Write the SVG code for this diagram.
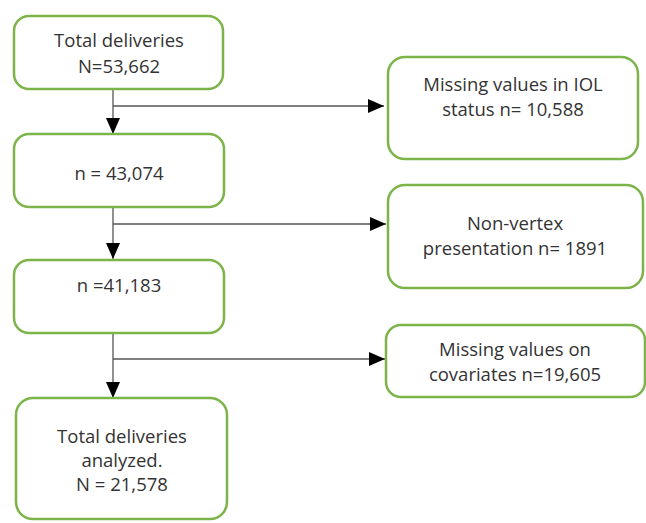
<svg xmlns="http://www.w3.org/2000/svg" width="646" height="523" viewBox="0 0 646 523">
<defs>
<style>
.box{fill:#fff;stroke:#7cb44a;stroke-width:2.5}
.t{font-family:"Open Sans",Lato,"Liberation Sans",sans-serif;font-size:18.5px;fill:#333;text-anchor:middle}
.c{stroke:#555;stroke-width:1.3;fill:none}
</style>
<marker id="ah" markerWidth="16" markerHeight="14" refX="16" refY="7" orient="auto" markerUnits="userSpaceOnUse">
<path d="M0,0 L16,7 L0,14 Z" fill="#000"/>
</marker>
</defs>
<rect width="646" height="523" fill="#fff"/>
<g id="connectors">
<path class="c" d="M113,89 V134" marker-end="url(#ah)"/>
<path class="c" d="M113,106 H384" marker-end="url(#ah)"/>
<path class="c" d="M113,208 V259" marker-end="url(#ah)"/>
<path class="c" d="M113,224 H386" marker-end="url(#ah)"/>
<path class="c" d="M113,333 V398" marker-end="url(#ah)"/>
<path class="c" d="M113,359 H385" marker-end="url(#ah)"/>
</g>
<g id="n1">
<rect class="box" x="14" y="16" width="209" height="73" rx="15"/>
<text class="t" x="119" y="47">Total deliveries</text>
<text class="t" x="119" y="73">N=53,662</text>
</g>
<g id="n2">
<rect class="box" x="14" y="134" width="210" height="73" rx="15"/>
<text class="t" x="119" y="180">n = 43,074</text>
</g>
<g id="n3">
<rect class="box" x="14" y="260" width="210" height="73" rx="15"/>
<text class="t" x="119" y="292">n =41,183</text>
</g>
<g id="n4">
<rect class="box" x="16" y="398" width="211" height="121" rx="17"/>
<text class="t" x="122" y="443">Total deliveries</text>
<text class="t" x="122" y="467">analyzed.</text>
<text class="t" x="122" y="491">N = 21,578</text>
</g>
<g id="r1">
<rect class="box" x="388" y="57" width="250" height="102" rx="17"/>
<text class="t" x="513" y="91">Missing values in IOL</text>
<text class="t" x="513" y="116">status n= 10,588</text>
</g>
<g id="r2">
<rect class="box" x="388" y="185" width="255" height="103" rx="17"/>
<text class="t" x="515" y="230">Non-vertex</text>
<text class="t" x="515" y="255">presentation n= 1891</text>
</g>
<g id="r3">
<rect class="box" x="386" y="325" width="259" height="72" rx="15"/>
<text class="t" x="515" y="356">Missing values on</text>
<text class="t" x="515" y="381">covariates n=19,605</text>
</g>
</svg>
